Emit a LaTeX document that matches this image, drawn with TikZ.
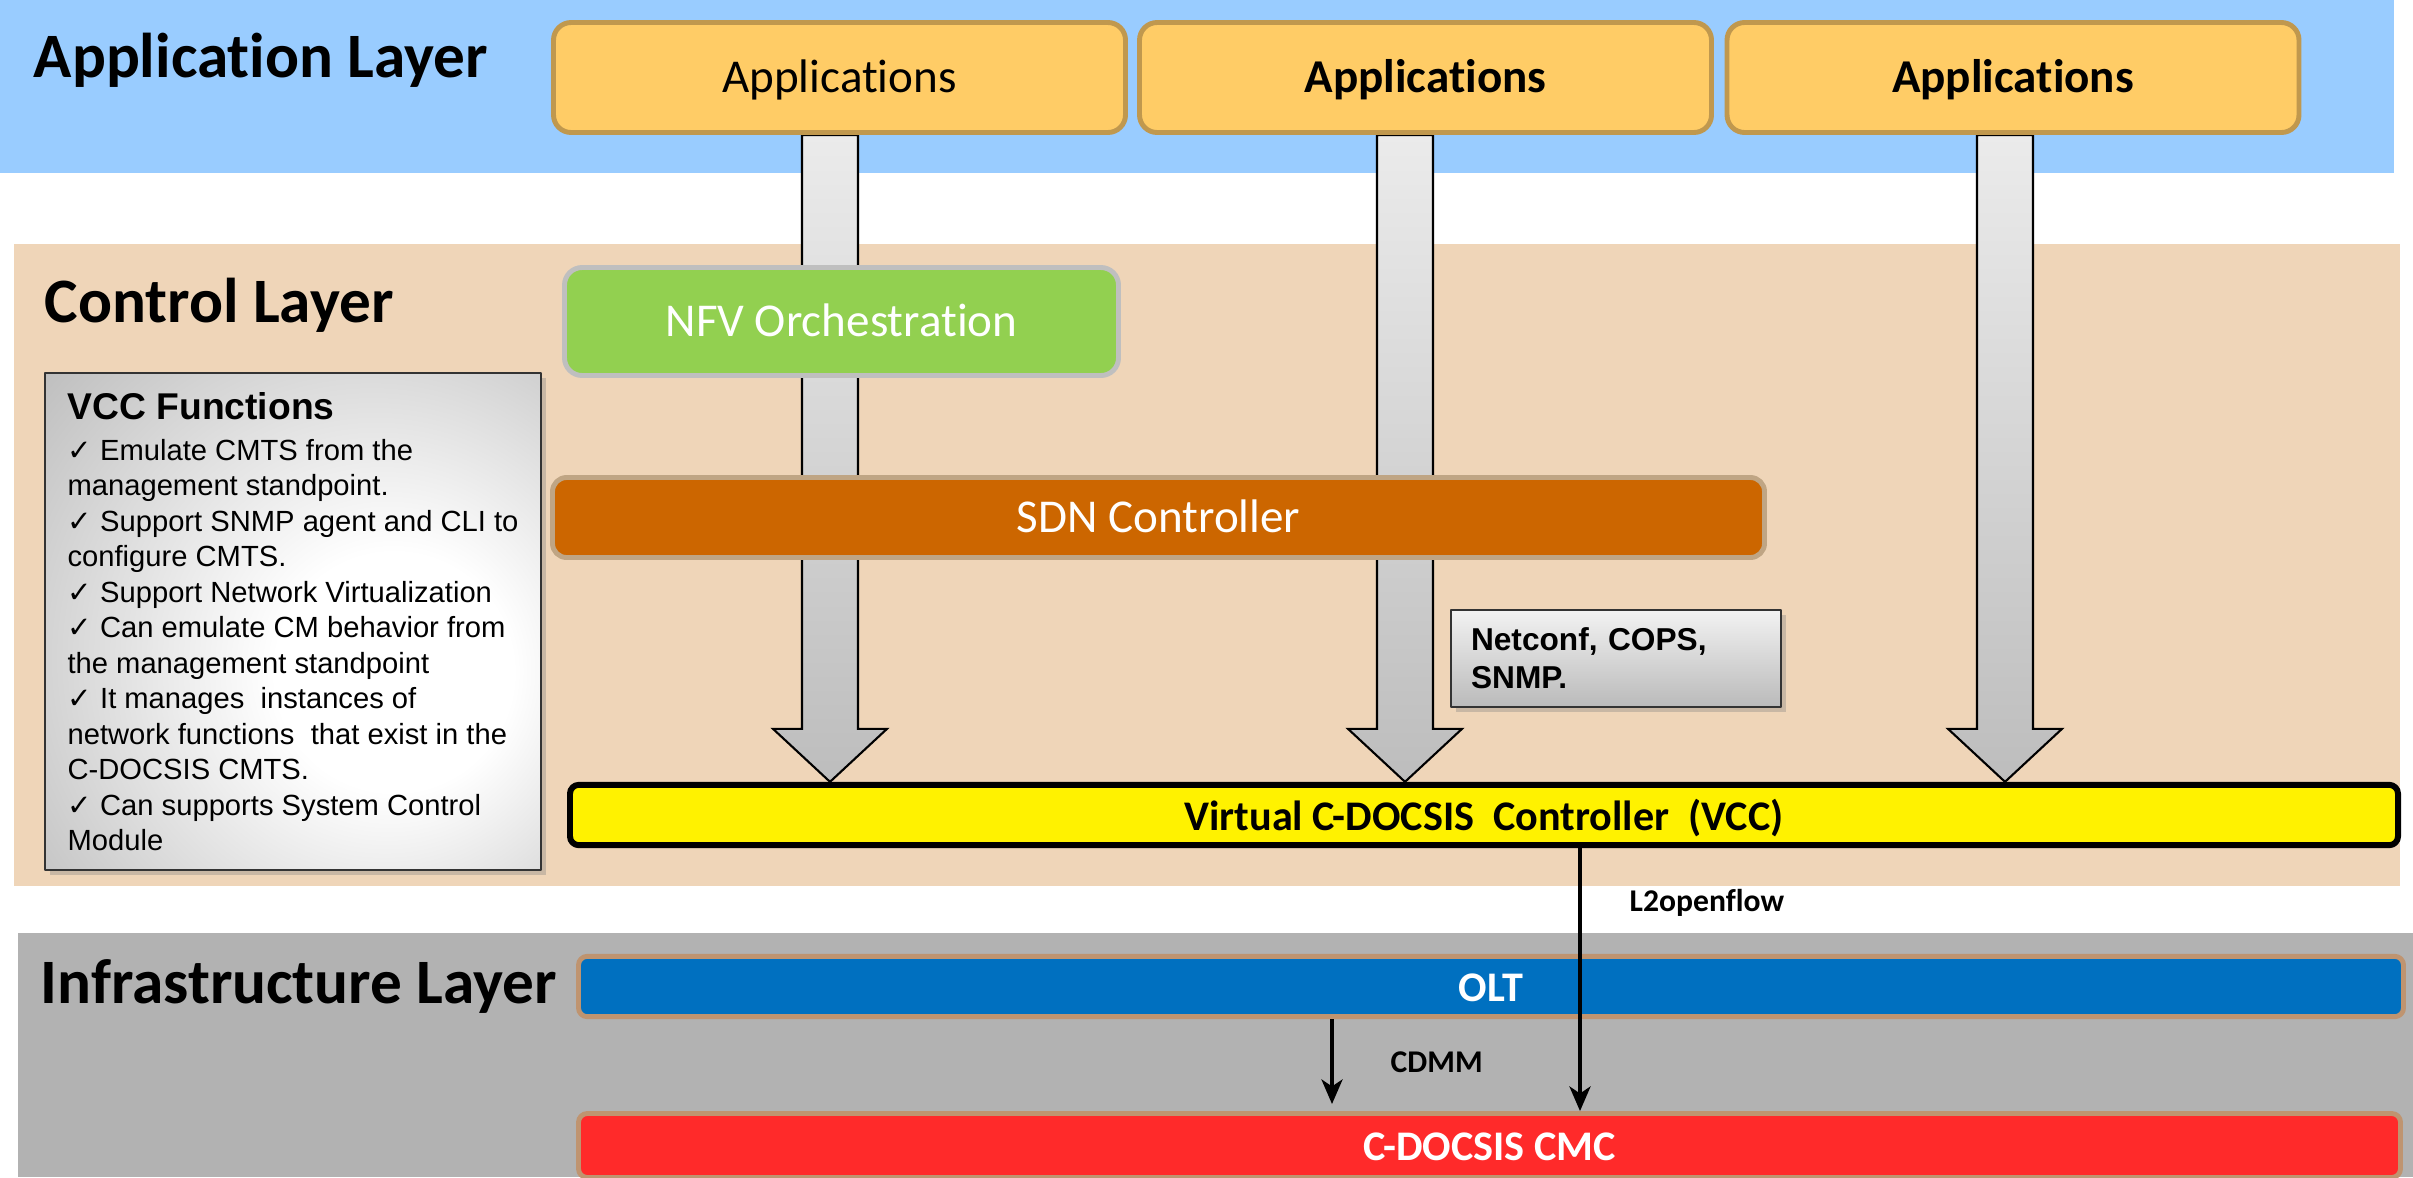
\documentclass[tikz,border=0pt]{standalone}
\usepackage{fontspec}
\setmainfont{Carlito}[Ligatures=NoCommon]
\newfontfamily\arialfont{Liberation Sans}
\newfontfamily\dejavufont{DejaVu Sans}
\usetikzlibrary{arrows.meta,shadows,backgrounds,calc}
\definecolor{bandblue}{HTML}{99CCFF}
\definecolor{bandtan}{HTML}{EFD5B8}
\definecolor{bandgrey}{HTML}{B2B2B2}
\definecolor{appfill}{HTML}{FFCC66}
\definecolor{appedge}{HTML}{C0984E}
\definecolor{nfvfill}{HTML}{92D050}
\definecolor{nfvedge}{HTML}{BFBFBF}
\definecolor{sdnfill}{HTML}{CC6600}
\definecolor{sdnedge}{HTML}{BFA584}
\definecolor{infraedge}{HTML}{BF9470}
\definecolor{oltfill}{HTML}{0070C0}
\definecolor{cmcfill}{HTML}{FF2A2A}
\definecolor{arrowtop}{HTML}{EBEBEB}
\definecolor{arrowbot}{HTML}{BDBDBD}
\definecolor{fnmid}{HTML}{BEBEBE}
\definecolor{fnouter}{HTML}{9A9A9A}
\pgfdeclareradialshading{fnglow}{\pgfpoint{12bp}{-6bp}}{color(0bp)=(white);color(12bp)=(white);color(42bp)=(fnmid);color(58bp)=(fnouter);color(80bp)=(fnouter)}
\newcommand{\vcheck}{{\dejavufont ✓}}

\begin{document}
\begin{tikzpicture}[x=1.0cm,y=1.0cm,line join=round,>={Stealth[length=7pt,width=6pt,inset=2pt]},
  layertitle/.style={anchor=base west,inner sep=0pt,font=\fontsize{18}{21}\selectfont\bfseries},
  boxtext/.style={text height=2.0ex,text depth=0.2ex},
  appbox/.style={boxtext,draw=appedge,fill=appfill,line width=1.4pt,rounded corners=5pt,
    minimum width=5.72cm,minimum height=1.10cm,font=\fontsize{13.4}{16}\selectfont},
  ctrlbox/.style={boxtext,line width=1.4pt,rounded corners=5pt,text=white,font=\fontsize{13.4}{16}\selectfont},
  bar/.style={boxtext,line width=1.4pt,rounded corners=2.5pt,font=\fontsize{12}{14}\selectfont\bfseries},
  bigarrow/.style={draw=black,line width=0.6pt,top color=arrowtop,bottom color=arrowbot},
  greybox/.style={draw=black!80,line width=0.6pt,drop shadow={shadow xshift=1.5pt,shadow yshift=-1.5pt,opacity=0.35}},
  link/.style={->,line width=1pt},
  linklabel/.style={anchor=west,inner sep=0pt,font=\fontsize{9}{11}\selectfont\bfseries}]
\useasboundingbox (0,0) rectangle (24.13,-11.77);

%layer names
\node[layertitle] (applayer) at (0.33,-0.77) {Application Layer};
\node[layertitle] (ctrllayer) at (0.44,-3.22) {Control Layer};
\node[layertitle] (infralayer) at (0.40,-10.03) {Infrastructure Layer};

%application layer
\node[appbox] (app1) at (8.395,-0.775) {Applications};
\node[appbox] (app2) at (14.255,-0.775) {\bfseries Applications};
\node[appbox] (app3) at (20.13,-0.775) {\bfseries Applications};

%control layer
\node[ctrlbox,draw=nfvedge,fill=nfvfill,minimum width=5.54cm,minimum height=1.08cm] (nfv) at (8.415,-3.215) {NFV Orchestration};
\node[ctrlbox,draw=sdnedge,fill=sdnfill,minimum width=12.12cm,minimum height=0.80cm,rounded corners=4pt] (sdn) at (11.585,-5.175) {SDN Controller};
\node[bar,draw=black,fill=yellow,line width=1.7pt,minimum width=18.28cm,minimum height=0.50cm] (vcc) at (14.84,-8.15) {Virtual C-DOCSIS\ \ Controller\ \ (VCC)};

\node[greybox,shading=fnglow,anchor=north west,minimum width=4.96cm,minimum height=4.97cm,
  align=left,font=\arialfont\fontsize{8.3}{10.1}\selectfont] (vccfn) at (0.44,-3.72)
  {{\fontsize{10.6}{12}\selectfont\bfseries VCC Functions}\\[1.6pt]
   \vcheck\ Emulate CMTS from the\\
   management standpoint.\\
   \vcheck\ Support SNMP agent and CLI to\\
   configure CMTS.\\
   \vcheck\ Support Network Virtualization\\
   \vcheck\ Can emulate CM behavior from\\
   the management standpoint\\
   \vcheck\ It manages\ \ instances of\\
   network functions\ \ that exist in the\\
   C-DOCSIS CMTS.\\
   \vcheck\ Can supports System Control\\
   Module};

\node[greybox,top color=black!5,bottom color=black!27,anchor=north west,text width=2.9cm,inner xsep=0.2cm,
  minimum height=0.97cm,align=left,font=\arialfont\fontsize{9}{10.8}\selectfont\bfseries] (proto) at (14.50,-6.09)
  {Netconf, COPS,\\SNMP.};

%infrastructure layer
\node[bar,draw=infraedge,fill=oltfill,text=white,minimum width=18.25cm,minimum height=0.60cm] (olt) at (14.91,-9.865) {OLT};
\node[bar,draw=infraedge,fill=cmcfill,text=white,minimum width=18.22cm,minimum height=0.64cm] (cmc) at (14.895,-11.455) {C-DOCSIS CMC};

%links
\draw[link] (vcc.south -| 15.80,0) -- (cmc.north -| 15.80,0);
\node[linklabel] (l2lbl) at (16.29,-9.03) {L2openflow};
\draw[link,shorten >=2pt] (olt.south -| 13.32,0) -- (cmc.north -| 13.32,0);
\node[linklabel] (cdmmlbl) at (13.90,-10.62) {CDMM};

\begin{pgfonlayer}{background}
\fill[bandblue] (0,0) rectangle (23.94,-1.73);
\fill[bandtan] (0.14,-2.44) rectangle (24.00,-8.86);
\fill[bandgrey] (0.18,-9.33) rectangle (24.13,-11.77);
\foreach \a/\xc in {app1/8.30,app2/14.05,app3/20.05}
  \draw[bigarrow] let \p1=(\a.south), \p2=(vcc.north) in
    (\xc cm-0.28cm,\y1) -- (\xc cm+0.28cm,\y1) -- (\xc cm+0.28cm,\y2+0.53cm) -- (\xc cm+0.57cm,\y2+0.53cm)
    -- (\xc cm,\y2) -- (\xc cm-0.57cm,\y2+0.53cm) -- (\xc cm-0.28cm,\y2+0.53cm) -- cycle;
\end{pgfonlayer}
\end{tikzpicture}
\end{document}
